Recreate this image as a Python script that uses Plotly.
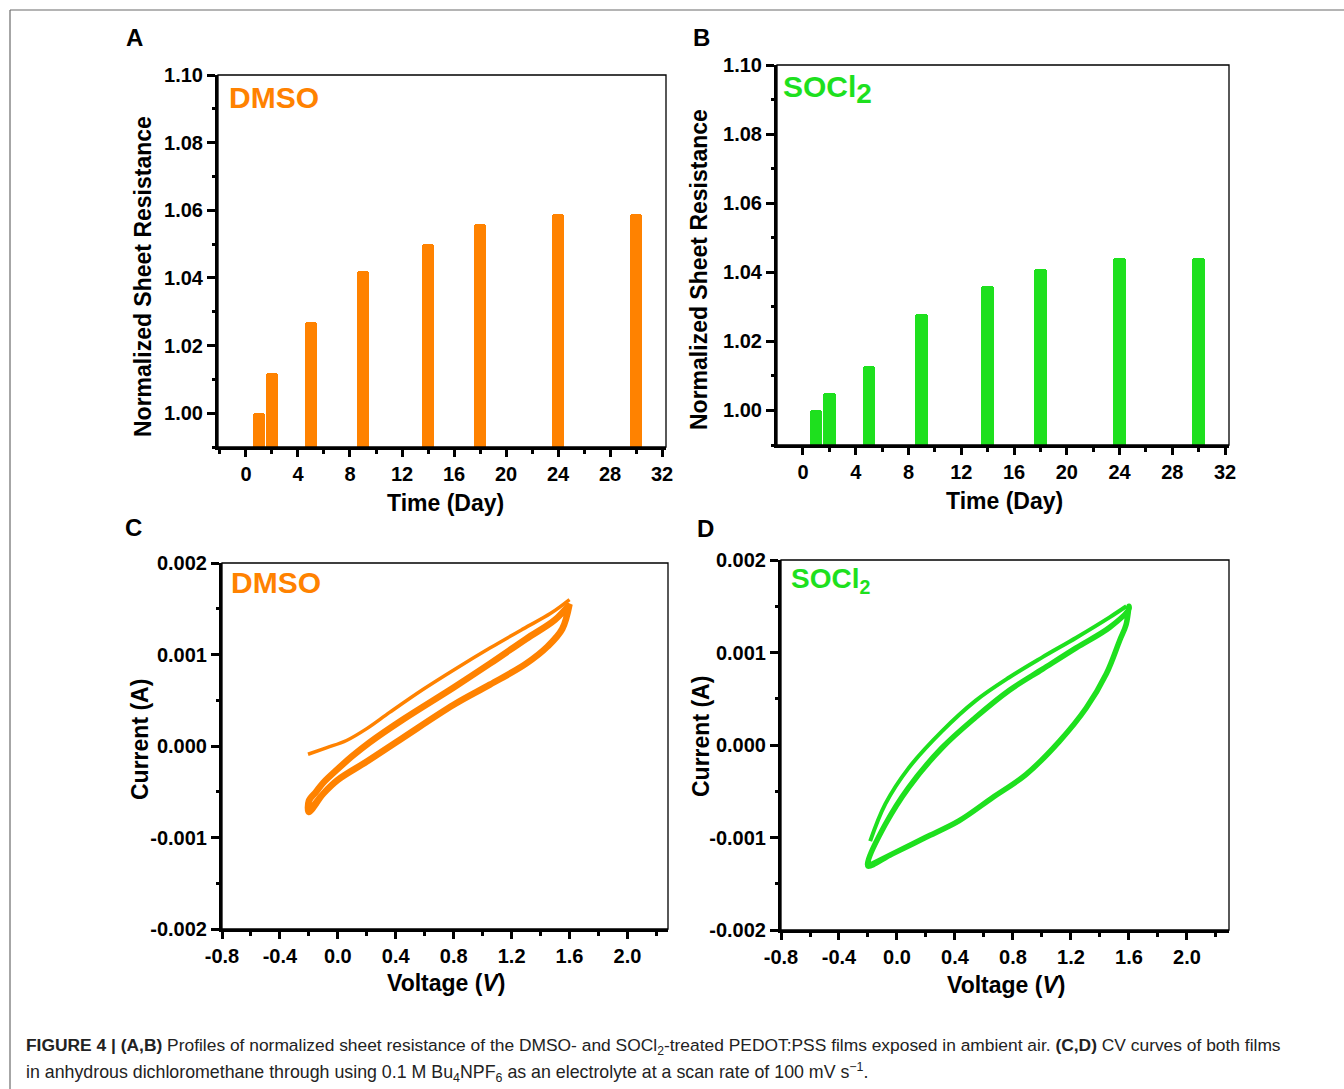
import plotly.graph_objects as go

W, H = 1344, 1089

# ---------------- data ----------------
days = [1, 2, 5, 9, 14, 18, 24, 30]
dmso_rs = [1.000, 1.012, 1.027, 1.042, 1.050, 1.056, 1.059, 1.059]
socl2_rs = [1.000, 1.005, 1.013, 1.028, 1.036, 1.041, 1.044, 1.044]

# CV, DMSO film: first anodic sweep, later anodic sweeps, cathodic sweeps
dmso_init_v = [-0.206, -0.08, 0.06, 0.2, 0.36, 0.59, 0.82, 1.05, 1.28, 1.47, 1.6]
dmso_init_i = [-0.00009, -0.00002, 0.00006, 0.00019, 0.00037, 0.00062, 0.00085, 0.00107, 0.00128, 0.00145, 0.0016]
dmso_fwd_v = [-0.2, -0.15, -0.1, 0.0, 0.1, 0.22, 0.45, 0.8, 1.05, 1.3, 1.5, 1.6]
dmso_fwd_i = [-0.0006, -0.0005, -0.0004, -0.00025, -0.00011, 0.00004, 0.00029, 0.00064, 0.0009, 0.00117, 0.00138, 0.00155]
dmso_rev_v = [1.6, 1.55, 1.45, 1.3, 1.05, 0.8, 0.45, 0.2, 0.0, -0.1, -0.2]
dmso_rev_i = [0.00155, 0.00128, 0.00109, 0.0009, 0.00067, 0.00045, 0.00009, -0.00017, -0.00037, -0.00052, -0.00072]

# CV, SOCl2 film
socl2_init_v = [-0.185, -0.081, 0.08, 0.311, 0.543, 0.773, 1.004, 1.236, 1.466, 1.582]
socl2_init_i = [-0.00104, -0.00064, -0.00025, 0.00015, 0.00048, 0.00073, 0.00095, 0.00116, 0.00138, 0.0015]
socl2_fwd_v = [-0.2, -0.081, 0.08, 0.311, 0.543, 0.773, 1.004, 1.236, 1.466, 1.6]
socl2_fwd_i = [-0.00126, -0.00086, -0.00046, -0.00003, 0.0003, 0.00059, 0.00082, 0.00105, 0.00127, 0.00147]
socl2_rev_v = [1.6, 1.58, 1.536, 1.444, 1.305, 1.12, 0.889, 0.658, 0.427, 0.196, -0.035, -0.2]
socl2_rev_i = [0.0015, 0.0013, 0.00113, 0.00077, 0.0004, 0.00004, -0.00032, -0.00057, -0.00082, -0.001, -0.00118, -0.00131]

day_ticks = [0, 4, 8, 12, 16, 20, 24, 28, 32]
rs_ticks = [1.00, 1.02, 1.04, 1.06, 1.08, 1.10]
rs_labels = ["1.00", "1.02", "1.04", "1.06", "1.08", "1.10"]
v_ticks = [-0.8, -0.4, 0.0, 0.4, 0.8, 1.2, 1.6, 2.0]
v_labels = ["-0.8", "-0.4", "0.0", "0.4", "0.8", "1.2", "1.6", "2.0"]
i_ticks = [-0.002, -0.001, 0.0, 0.001, 0.002]
i_labels = ["-0.002", "-0.001", "0.000", "0.001", "0.002"]

ORANGE = "#FF8200"
GREEN = "#1EE01E"
FONT = "Liberation Sans, Arial, Helvetica, sans-serif"


def px(x):
    return x / W


def py(y):
    return 1 - y / H


fig = go.Figure()

# bars
fig.add_trace(go.Bar(x=days, y=dmso_rs, width=0.95, marker=dict(color=ORANGE, line=dict(width=0), cornerradius=3),
                     xaxis="x", yaxis="y", showlegend=False))
fig.add_trace(go.Bar(x=days, y=socl2_rs, width=0.95, marker=dict(color=GREEN, line=dict(width=0), cornerradius=3),
                     xaxis="x2", yaxis="y2", showlegend=False))

# CV loops
loop_v = dmso_rev_v + dmso_fwd_v + dmso_rev_v
loop_i = dmso_rev_i + dmso_fwd_i + dmso_rev_i
fig.add_trace(go.Scatter(x=dmso_init_v, y=dmso_init_i, mode="lines", line=dict(color=ORANGE, width=3.5, shape="spline"),
                         xaxis="x3", yaxis="y3", showlegend=False))
fig.add_trace(go.Scatter(x=loop_v, y=loop_i, mode="lines", line=dict(color=ORANGE, width=6.5, shape="spline"),
                         xaxis="x3", yaxis="y3", showlegend=False))

loop_v2 = socl2_rev_v + socl2_fwd_v + socl2_rev_v
loop_i2 = socl2_rev_i + socl2_fwd_i + socl2_rev_i
fig.add_trace(go.Scatter(x=socl2_init_v, y=socl2_init_i, mode="lines", line=dict(color=GREEN, width=4, shape="spline"),
                         xaxis="x4", yaxis="y4", showlegend=False))
fig.add_trace(go.Scatter(x=loop_v2, y=loop_i2, mode="lines", line=dict(color=GREEN, width=5.5, shape="spline"),
                         xaxis="x4", yaxis="y4", showlegend=False))

tickfont = dict(family=FONT, size=20, color="black", weight="bold")


def xax(domain, rng, tickvals, ticktext, minor_dtick, minor_tick0, anchor):
    return dict(domain=domain, range=rng, anchor=anchor, tickmode="array", tickvals=tickvals, ticktext=ticktext,
                ticks="outside", ticklen=7, tickwidth=2.5, tickcolor="black", showline=True, linewidth=3,
                linecolor="black", mirror=False, showgrid=False, zeroline=False, tickfont=tickfont,
                automargin=False,
                minor=dict(tickmode="linear", dtick=minor_dtick, tick0=minor_tick0, ticks="outside", ticklen=4,
                           tickwidth=2.5, tickcolor="black", showgrid=False))


def yax(domain, rng, tickvals, ticktext, minor_dtick, minor_tick0, anchor):
    return dict(domain=domain, range=rng, anchor=anchor, tickmode="array", tickvals=tickvals, ticktext=ticktext,
                ticks="outside", ticklen=8, tickwidth=3, tickcolor="black", showline=True, linewidth=3,
                linecolor="black", mirror=False, showgrid=False, zeroline=False, tickfont=tickfont,
                automargin=False,
                minor=dict(tickmode="linear", dtick=minor_dtick, tick0=minor_tick0, ticks="outside", ticklen=3,
                           tickwidth=3, tickcolor="black", showgrid=False))


dA = dict(x=[px(218), px(666)], y=[py(447), py(75)])
dB = dict(x=[px(777), px(1229)], y=[py(445), py(65)])
dC = dict(x=[px(222), px(668)], y=[py(929), py(563)])
dD = dict(x=[px(781), px(1229)], y=[py(930), py(560)])

fig.update_layout(
    width=W, height=H, autosize=False,
    margin=dict(l=0, r=0, t=0, b=0, pad=0, autoexpand=False),
    paper_bgcolor="white", plot_bgcolor="white", bargap=0,
    xaxis=xax(dA["x"], [-2.15, 32.3], day_ticks, [str(t) for t in day_ticks], 2, 0, "y"),
    yaxis=yax(dA["y"], [0.99, 1.10], rs_ticks, rs_labels, 0.01, 0.99, "x"),
    xaxis2=xax(dB["x"], [-1.97, 32.3], day_ticks, [str(t) for t in day_ticks], 2, 0, "y2"),
    yaxis2=yax(dB["y"], [0.99, 1.10], rs_ticks, rs_labels, 0.01, 0.99, "x2"),
    xaxis3=xax(dC["x"], [-0.8, 2.28], v_ticks, v_labels, 0.2, -0.8, "y3"),
    yaxis3=yax(dC["y"], [-0.002, 0.002], i_ticks, i_labels, 0.0005, -0.002, "x3"),
    xaxis4=xax(dD["x"], [-0.8, 2.29], v_ticks, v_labels, 0.2, -0.8, "y4"),
    yaxis4=yax(dD["y"], [-0.002, 0.002], i_ticks, i_labels, 0.0005, -0.002, "x4"),
)

# outer figure frame (only its top and left edges are inside the page)
shapes = [
    dict(type="line", xref="paper", yref="paper", x0=px(10), x1=1, y0=py(10), y1=py(10),
         line=dict(color="#6b6b6b", width=1.2)),
    dict(type="line", xref="paper", yref="paper", x0=px(10), x1=px(10), y0=py(10), y1=0,
         line=dict(color="#6b6b6b", width=1.2)),
]
for ax in ["x", "x2", "x3", "x4"]:
    yax_name = ax.replace("x", "y")
    shapes.append(dict(type="rect", xref=f"{ax} domain", yref=f"{yax_name} domain", x0=0, x1=1, y0=0, y1=1,
                       line=dict(color="black", width=1.3), fillcolor="rgba(0,0,0,0)", layer="above"))
fig.update_layout(shapes=shapes)

ann = []


def text(x, y, t, size, color="black", xanchor="center", yanchor="middle", angle=0, bold=True):
    ann.append(dict(x=px(x), y=py(y), xref="paper", yref="paper", text=t, showarrow=False, xanchor=xanchor,
                    yanchor=yanchor, textangle=angle,
                    font=dict(family=FONT, size=size, color=color, weight="bold" if bold else "normal")))


# panel letters
text(134, 38, "A", 24)
text(701, 38, "B", 24)
text(133, 527, "C", 24)
text(705, 528, "D", 24)

# inner labels
text(227, 98, "DMSO", 30, ORANGE, xanchor="left")
text(781, 90, "SOCl<sub><span style='font-size:28px'>2</span></sub>", 30, GREEN, xanchor="left")
text(229, 582, "DMSO", 30, ORANGE, xanchor="left")
text(789, 580, "SOCl<sub>2</sub>", 28, GREEN, xanchor="left")

# axis titles
text(143, 277, "Normalized Sheet Resistance", 23, angle=-90)
text(699, 270, "Normalized Sheet Resistance", 23, angle=-90)
text(445, 503, "Time (Day)", 23)
text(1005, 501, "Time (Day)", 23)
text(140, 740, "Current (A)", 23, angle=-90)
text(701, 737, "Current (A)", 23, angle=-90)
text(446, 983, "Voltage (<i>V</i>)", 23)
text(1006, 985, "Voltage (<i>V</i>)", 23)

# caption
cap1 = ("<b>FIGURE 4 | (A,B)</b> Profiles of normalized sheet resistance of the DMSO- and SOCl<sub>2</sub>-treated "
        "PEDOT:PSS films exposed in ambient air. <b>(C,D)</b> CV curves of both films")
cap2 = ("in anhydrous dichloromethane through using 0.1 M Bu<sub>4</sub>NPF<sub>6</sub> as an electrolyte at a scan "
        "rate of 100 mV s<sup>\u22121</sup>.")
text(24, 1046, cap1, 17.4, "#222222", xanchor="left", bold=False)
text(24, 1072, cap2, 17.8, "#222222", xanchor="left", bold=False)

fig.update_layout(annotations=ann)

fig.write_html("out.html", config={"displayModeBar": False},
               post_script="document.body.style.margin='0';document.body.style.overflow='hidden';")
